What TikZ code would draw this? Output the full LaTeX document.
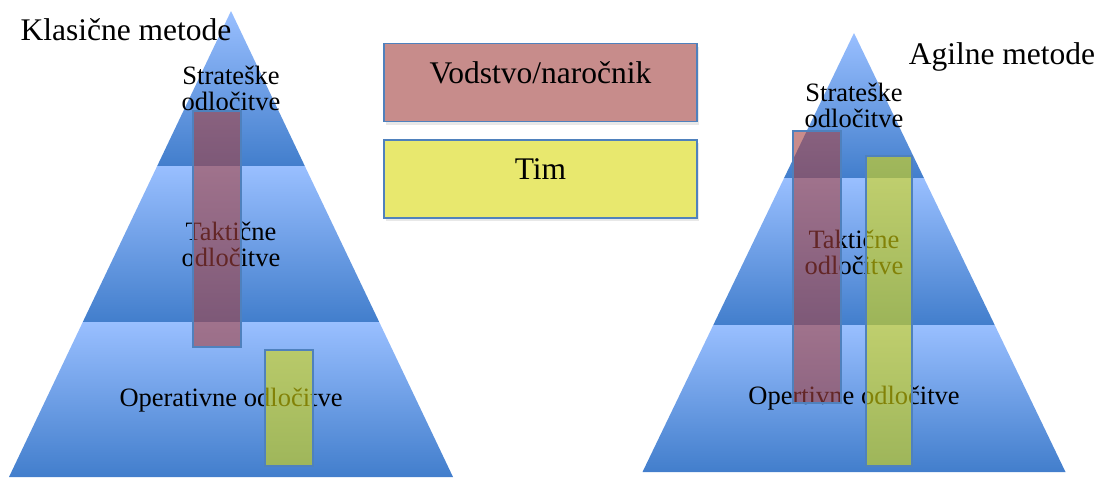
\documentclass[tikz,border=0pt]{standalone}
\usepackage{fontspec}
\setmainfont{Liberation Serif}
\usetikzlibrary{shadows}
\definecolor{pyrlight}{RGB}{153,191,255}
\definecolor{pyrdark}{RGB}{66,126,204}
\definecolor{boxline}{RGB}{79,129,189}
\definecolor{leadred}{RGB}{165,64,64}
\definecolor{leadpink}{RGB}{199,140,139}
\definecolor{teamyellow}{RGB}{217,217,13}
\definecolor{teamlight}{RGB}{232,232,110}
\tikzstyle{band} = [top color=pyrlight, bottom color=pyrdark]
\tikzstyle{legendbox} = [rectangle, draw=boxline, line width=1.5pt, minimum width=313pt, minimum height=78pt, inner sep=0pt, font=\fontsize{31.5}{32}\selectfont, drop shadow={opacity=0.18, shadow xshift=2pt, shadow yshift=-3pt}]

\begin{document}
\begin{tikzpicture}[x=1pt, y=-1pt,
    level/.style={inner sep=0pt, align=center, font=\fontsize{26.5}{26}\selectfont},
    title/.style={inner sep=0pt, font=\fontsize{31.5}{32}\selectfont},
    bar/.style={rectangle, draw=boxline, line width=1.5pt, fill opacity=0.6, inner sep=0pt},
    leadbar/.style={bar, fill=leadred},
    teambar/.style={bar, fill=teamyellow}]
\useasboundingbox (0,0) rectangle (1101,477);

% Classic pyramid
\shade[band] (231,11) -- (304.8,166) -- (157.2,166) -- cycle;
\shade[band] (157.2,166) -- (304.8,166) -- (379.2,322) -- (82.8,322) -- cycle;
\shade[band] (82.8,322) -- (379.2,322) -- (453,477) -- (9,477) -- cycle;

% Agile pyramid
\shade[band] (854,33) -- (923.9,178) -- (784.1,178) -- cycle;
\shade[band] (784.1,178) -- (923.9,178) -- (994.7,325) -- (713.3,325) -- cycle;
\shade[band] (713.3,325) -- (994.7,325) -- (1065.5,472) -- (642.5,472) -- cycle;

% Titles
\node[title] (classic) at (126,30) {Klasične metode};
\node[title] (agile) at (1002,57) {Agilne metode};

% Levels
\node[level] (lstrat) at (231,88) {Strateške\\odločitve};
\node[level] (ltakt) at (231,244) {Taktične\\odločitve};
\node[level] (loper) at (231,400) {Operativne odločitve};

\node[level] (rstrat) at (854,105) {Strateške\\odločitve};
\node[level] (rtakt) at (854,252) {Taktične\\odločitve};
\node[level] (roper) at (854,398) {Opertivne odločitve};

% Legend
\node[legendbox, fill=leadpink] (lead) at (540.5,82.5) {\raisebox{19pt}{Vodstvo/naročnik}};
\node[legendbox, fill=teamlight] (team) at (540.5,179) {\raisebox{19pt}{Tim}};

% Bars
\node[leadbar, minimum width=48pt, minimum height=236pt] (lleadbar) at (217,229) {};
\node[teambar, minimum width=48pt, minimum height=116pt] (lteambar) at (289,408) {};
\node[leadbar, minimum width=48pt, minimum height=272pt] (rleadbar) at (817,267) {};
\node[teambar, minimum width=46pt, minimum height=310pt] (rteambar) at (889,311) {};
\end{tikzpicture}
\end{document}
